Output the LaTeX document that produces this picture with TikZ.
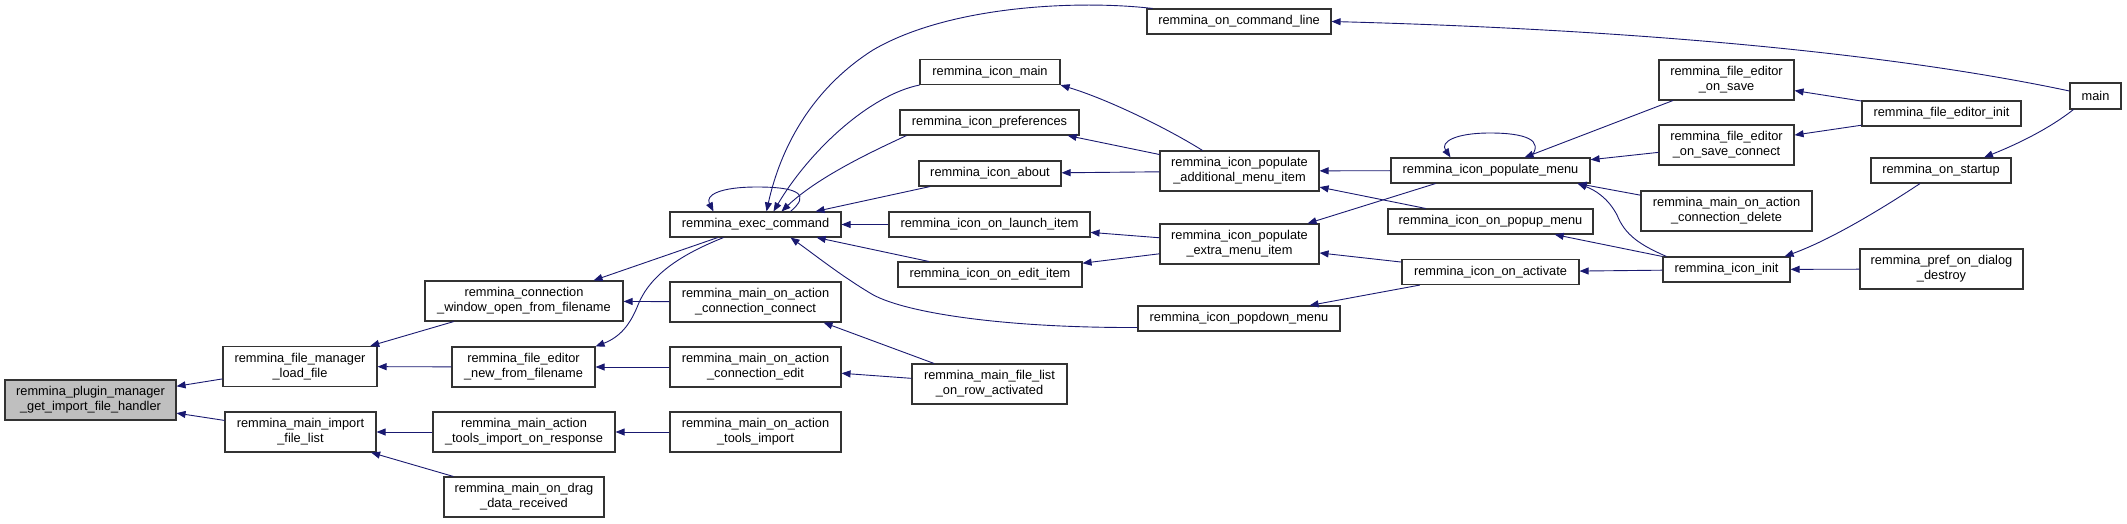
\documentclass[tikz,border=0pt]{standalone}
\usepackage{fontspec}
\setmainfont{Liberation Sans}
\usepackage{xcolor}
\usepackage{tikz}
\usetikzlibrary{arrows.meta}
\definecolor{edgeblue}{HTML}{191970}
\definecolor{boxgray}{HTML}{BFBFBF}

\begin{document}
\begin{tikzpicture}[x=1pt, y=-1pt,
  fnnode/.style={rectangle, draw=black!80, line width=1.1pt, fill=white, inner sep=0pt, minimum height=25pt, align=center, font=\fontsize{12.8}{15}\selectfont},
  fntwo/.style={fnnode, minimum height=40pt},
  callarrow/.style={draw=edgeblue, line width=0.9pt, -{Triangle[length=9pt, width=7pt]}}]
\useasboundingbox (0,0) rectangle (2127,524);
\node[fntwo, fill=boxgray, minimum width=171pt] (node0) at (90.50, 400.00) {remmina\_plugin\_manager\\\_get\_import\_file\_handler};
\node[fntwo, minimum width=154pt] (node1) at (300.00, 366.50) {remmina\_file\_manager\\\_load\_file};
\node[fntwo, minimum width=151pt] (node2) at (300.50, 432.00) {remmina\_main\_import\\\_file\_list};
\node[fntwo, minimum width=198pt] (node3) at (524.00, 301.00) {remmina\_connection\\\_window\_open\_from\_filename};
\node[fntwo, minimum width=143pt] (node4) at (523.50, 367.00) {remmina\_file\_editor\\\_new\_from\_filename};
\node[fntwo, minimum width=182pt] (node5) at (524.00, 432.00) {remmina\_main\_action\\\_tools\_import\_on\_response};
\node[fntwo, minimum width=160pt] (node6) at (524.00, 497.00) {remmina\_main\_on\_drag\\\_data\_received};
\node[fnnode, minimum width=171pt] (node7) at (755.50, 224.50) {remmina\_exec\_command};
\node[fntwo, minimum width=171pt] (node8) at (755.50, 302.00) {remmina\_main\_on\_action\\\_connection\_connect};
\node[fntwo, minimum width=171pt] (node9) at (755.50, 367.00) {remmina\_main\_on\_action\\\_connection\_edit};
\node[fntwo, minimum width=171pt] (node10) at (755.50, 432.00) {remmina\_main\_on\_action\\\_tools\_import};
\node[fnnode, minimum width=184pt] (node11) at (1239.00, 21.50) {remmina\_on\_command\_line};
\node[fnnode, minimum width=140pt] (node12) at (990.00, 72.00) {remmina\_icon\_main};
\node[fnnode, minimum width=179pt] (node13) at (989.50, 122.50) {remmina\_icon\_preferences};
\node[fnnode, minimum width=142pt] (node14) at (990.00, 173.50) {remmina\_icon\_about};
\node[fnnode, minimum width=201pt] (node15) at (989.50, 224.50) {remmina\_icon\_on\_launch\_item};
\node[fnnode, minimum width=184pt] (node16) at (990.00, 274.50) {remmina\_icon\_on\_edit\_item};
\node[fntwo, minimum width=155pt] (node17) at (989.50, 384.00) {remmina\_main\_file\_list\\\_on\_row\_activated};
\node[fntwo, minimum width=159pt] (node18) at (1239.50, 171.00) {remmina\_icon\_populate\\\_additional\_menu\_item};
\node[fntwo, minimum width=159pt] (node19) at (1239.50, 244.00) {remmina\_icon\_populate\\\_extra\_menu\_item};
\node[fnnode, minimum width=202pt] (node20) at (1239.00, 318.50) {remmina\_icon\_popdown\_menu};
\node[fnnode, minimum width=199pt] (node21) at (1490.50, 170.50) {remmina\_icon\_populate\_menu};
\node[fnnode, minimum width=205pt] (node22) at (1490.50, 221.50) {remmina\_icon\_on\_popup\_menu};
\node[fnnode, minimum width=177pt] (node23) at (1490.50, 272.00) {remmina\_icon\_on\_activate};
\node[fntwo, minimum width=135pt] (node24) at (1726.50, 80.00) {remmina\_file\_editor\\\_on\_save};
\node[fntwo, minimum width=135pt] (node25) at (1726.50, 145.00) {remmina\_file\_editor\\\_on\_save\_connect};
\node[fntwo, minimum width=171pt] (node26) at (1726.50, 211.00) {remmina\_main\_on\_action\\\_connection\_delete};
\node[fnnode, minimum width=127pt] (node27) at (1726.50, 269.50) {remmina\_icon\_init};
\node[fnnode, minimum width=159pt] (node28) at (1941.50, 113.50) {remmina\_file\_editor\_init};
\node[fnnode, minimum width=140pt] (node29) at (1941.00, 170.50) {remmina\_on\_startup};
\node[fntwo, minimum width=163pt] (node30) at (1941.50, 269.00) {remmina\_pref\_on\_dialog\\\_destroy};
\node[fnnode, minimum width=51pt, minimum height=26pt] (node31) at (2095.50, 96.00) {main};
% first two ranks
\draw[callarrow] (node1) -- (node0);
\draw[callarrow] (node2) -- (node0);
\draw[callarrow] (node3) -- (node1);
\draw[callarrow] (node4) -- (node1);
\draw[callarrow] (node5) -- (node2);
\draw[callarrow] (node6) -- (node2);
\draw[callarrow] (node7) -- ([shift={(-30,0)}]node3.north east);
\draw[callarrow] (node8) -- (node3);
\draw[callarrow] ([shift={(-32,0)}]node7.south) .. controls (680,255) and (650,275) .. (638,305) .. controls (630,325) and (620,337) .. (node4.north east);
\draw[callarrow] (node9) -- (node4);
\draw[callarrow] (node10) -- (node5);
% callers of remmina_exec_command
\draw[callarrow] ([shift={(6,0)}]node11.north west) .. controls (1080,0) and (950,5) .. (873,50) .. controls (810,90) and (780,150) .. ([shift={(11,0)}]node7.north);
\draw[callarrow] (node12.south west) .. controls (870,95) and (810,150) .. ([shift={(18,0)}]node7.north);
\draw[callarrow] ([shift={(7,0)}]node13.south west) .. controls (880,148) and (820,175) .. ([shift={(26,0)}]node7.north);
\draw[callarrow] (node14) -- (node7);
\draw[callarrow] (node15) -- (node7);
\draw[callarrow] (node16) -- (node7);
\draw[callarrow] ([shift={(0,9)}]node20.west) .. controls (1000,328) and (900,312) .. (870,293) .. controls (840,275) and (815,255) .. ([shift={(35,0)}]node7.south);
\draw[callarrow] ([shift={(35,0)}]node7.north) .. controls (810,195) and (800,187) .. (757,187) .. controls (720,187) and (705,195) .. ([shift={(-42,0)}]node7.north);
\draw[callarrow] (node17) -- ([shift={(-18,0)}]node8.south east);
\draw[callarrow] (node17) -- (node9);
% populate items
\draw[callarrow] ([shift={(-37,0)}]node18.north) .. controls (1170,130) and (1110,100) .. (node12.south east);
\draw[callarrow] (node18) -- ([shift={(-12,0)}]node13.south east);
\draw[callarrow] (node18) -- (node14);
\draw[callarrow] (node19) -- (node15);
\draw[callarrow] (node19) -- (node16);
\draw[callarrow] (node21) -- (node18);
\draw[callarrow] (node22) -- (node18);
\draw[callarrow] ([shift={(-55,0)}]node21.south) -- ([shift={(-12,0)}]node19.north east);
\draw[callarrow] (node23) -- (node19);
\draw[callarrow] (node23) -- (node20);
\draw[callarrow] ([shift={(40,0)}]node21.north) .. controls (1545,140) and (1525,133) .. (1490,133) .. controls (1455,133) and (1440,142) .. ([shift={(-40,0)}]node21.north);
% callers of remmina_icon_populate_menu
\draw[callarrow] (node24) -- (node21);
\draw[callarrow] (node25) -- (node21);
\draw[callarrow] (node26) -- ([shift={(-13,0)}]node21.south east);
\draw[callarrow] ([shift={(4,0)}]node27.north west) .. controls (1640,245) and (1625,235) .. (1617,215) .. controls (1608,198) and (1595,190) .. ([shift={(-13,0)}]node21.south east);
\draw[callarrow] (node27) -- (node22);
\draw[callarrow] (node27) -- (node23);
\draw[callarrow] (node28) -- (node24);
\draw[callarrow] (node28) -- (node25);
\draw[callarrow] ([shift={(-21,0)}]node29.south) .. controls (1880,210) and (1830,240) .. ([shift={(-6,0)}]node27.north east);
\draw[callarrow] (node30) -- (node27);
\draw[callarrow] ([shift={(4,0)}]node31.south west) .. controls (2050,128) and (2020,143) .. ([shift={(43,0)}]node29.north);
\draw[callarrow] ([shift={(0,-5)}]node31.west) .. controls (1900,55) and (1650,30) .. (node11.east);
\end{tikzpicture}
\end{document}
